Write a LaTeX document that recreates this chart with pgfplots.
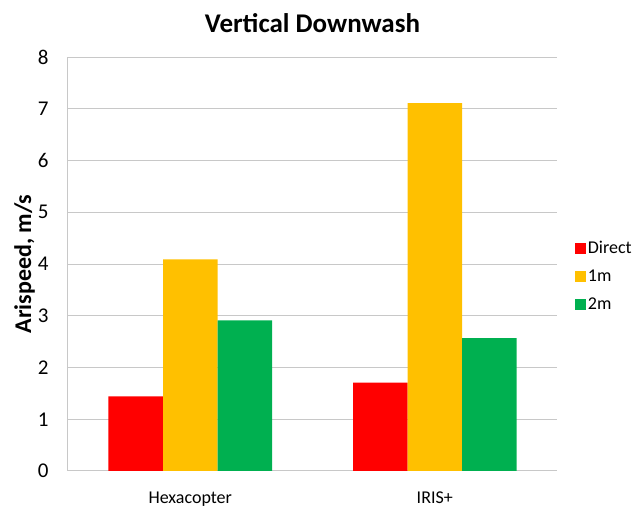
\documentclass[border=0pt]{standalone}
\usepackage{pgfplots}
\pgfplotsset{compat=1.18}
\usepackage{fontspec}
\setmainfont{Carlito}
\definecolor{cred}{RGB}{255,0,0}
\definecolor{cora}{RGB}{255,192,0}
\definecolor{cgre}{RGB}{0,176,80}
\definecolor{gridc}{RGB}{200,200,200}
\begin{document}
\begin{tikzpicture}[x=1pt,y=1pt]
\begin{axis}[
  scale only axis,
  width=489pt, height=414pt,
  ybar=0pt, bar width=54.5pt,
  xmin=-0.5, xmax=1.5,
  ymin=0, ymax=8,
  xtick=data,
  xticklabels={Hexacopter, IRIS+},
  ytick={0,1,...,8},
  ymajorgrids,
  grid style={gridc, line width=1pt},
  axis x line*=bottom,
  axis y line*=left,
  axis line style={gridc, line width=1pt},
  major tick length=0pt,
  x tick label style={font=\fontsize{18}{20}\selectfont, yshift=-17pt},
  y tick label style={font=\fontsize{21}{23}\selectfont, xshift=-16pt},
  /pgf/number format/assume math mode=true,
  title={\fontsize{27}{30}\selectfont\bfseries Vertical Downwash},
  title style={yshift=15pt},
  ylabel={\fontsize{24}{27}\selectfont\bfseries Arispeed, m/s},
  ylabel style={yshift=-4pt},
  legend style={at={(1.03,0.565)}, anchor=north west, draw=none, fill=none,
    font=\fontsize{18}{20}\selectfont, row sep=11pt, cells={anchor=west},
    /tikz/every even column/.append style={column sep=1pt}},
  legend image code/.code={\fill[#1] (0pt,-5.5pt) rectangle (11pt,5.5pt);},
  clip=false,
]
\addplot[fill=cred, draw=none] coordinates {(0,1.44) (1,1.71)};
\addplot[fill=cora, draw=none] coordinates {(0,4.09) (1,7.11)};
\addplot[fill=cgre, draw=none] coordinates {(0,2.91) (1,2.57)};
\legend{Direct, 1m, 2m}
\end{axis}
\useasboundingbox (-68pt,-35pt) rectangle (571pt,471pt);
\end{tikzpicture}
\end{document}
